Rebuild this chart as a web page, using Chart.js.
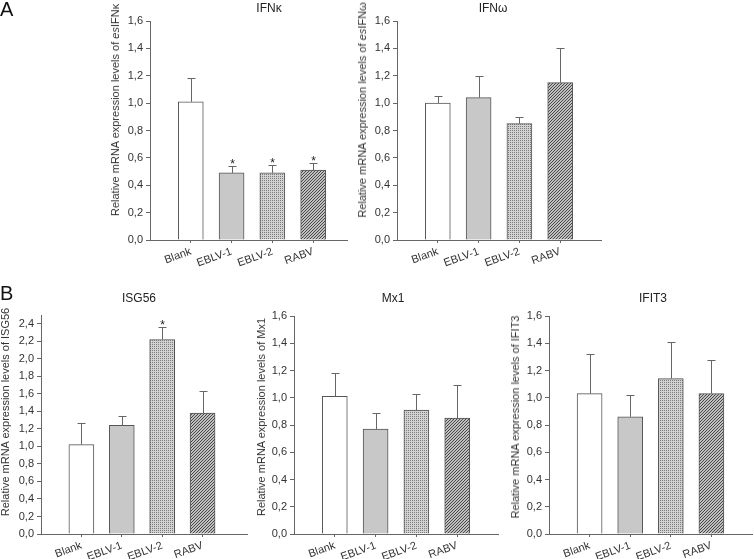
<!DOCTYPE html>
<html>
<head>
<meta charset="utf-8">
<script src="https://cdn.jsdelivr.net/npm/chart.js@4.4.0/dist/chart.umd.min.js"></script>
<style>
  body { margin: 0; background: #fff; font-family: 'Liberation Sans', Arial, sans-serif; color: #333; }
  #fig { position: relative; width: 754px; height: 559px; overflow: hidden; }
  canvas { position: absolute; left: 0; top: 0; }
  .lbl { position: absolute; font-size: 20px; color: #111; line-height: 1; }
  .ttl { position: absolute; font-size: 12px; color: #222; transform: translate(-50%, -50%); white-space: nowrap; }
  .ytl { position: absolute; font-size: 11px; color: #333; transform: translate(-50%, -50%) rotate(-90deg); white-space: nowrap; }
</style>
</head>
<body>
<div id="fig">
  <canvas id="cKappa" width="754" height="559"></canvas>
  <canvas id="cOmega" width="754" height="559"></canvas>
  <canvas id="cIsg56" width="754" height="559"></canvas>
  <canvas id="cMx1" width="754" height="559"></canvas>
  <canvas id="cIfit3" width="754" height="559"></canvas>

  <div class="lbl" style="left:0px;top:-1px">A</div>
  <div class="lbl" style="left:0px;top:283px">B</div>

  <div class="ttl" style="left:269px;top:8px">IFNκ</div>
  <div class="ttl" style="left:493px;top:8px">IFNω</div>
  <div class="ttl" style="left:139px;top:298px">ISG56</div>
  <div class="ttl" style="left:393px;top:298px">Mx1</div>
  <div class="ttl" style="left:653px;top:298px">IFIT3</div>

  <div class="ytl" style="left:115px;top:110px">Relative mRNA expression levels of <i>es</i>IFNκ</div>
  <div class="ytl" style="left:362px;top:110px">Relative mRNA expression levels of <i>es</i>IFNω</div>
  <div class="ytl" style="left:5px;top:412px">Relative mRNA expression levels of ISG56</div>
  <div class="ytl" style="left:261px;top:417px">Relative mRNA expression levels of Mx1</div>
  <div class="ytl" style="left:515px;top:417px">Relative mRNA expression levels of IFIT3</div>
</div>

<script>
const categories = ["Blank", "EBLV-1", "EBLV-2", "RABV"];
const ticksLow = [0, 0.2, 0.4, 0.6, 0.8, 1.0, 1.2, 1.4, 1.6];
const ticksHigh = [0, 0.2, 0.4, 0.6, 0.8, 1.0, 1.2, 1.4, 1.6, 1.8, 2.0, 2.2, 2.4];

// medias y desviaciones
const ifnKappa = [1.01, 0.49, 0.49, 0.51];
const ifnKappaSd = [0.17, 0.05, 0.06, 0.05];
const ifnKappaSig = [false, true, true, true];

const ifnOmega = [1.00, 1.04, 0.85, 1.15];
const ifnOmegaSd = [0.05, 0.16, 0.05, 0.25];
const ifnOmegaSig = [false, false, false, false];

const isg56 = [1.02, 1.24, 2.22, 1.38];
const isg56Sd = [0.25, 0.11, 0.14, 0.25];
const isg56Sig = [false, false, true, false];

const mx1 = [1.01, 0.77, 0.91, 0.85];
const mx1Sd = [0.17, 0.12, 0.12, 0.24];
const mx1Sig = [false, false, false, false];

const ifit3 = [1.03, 0.86, 1.14, 1.03];
const ifit3Sd = [0.29, 0.16, 0.27, 0.25];
const ifit3Sig = [false, false, false, false];

Chart.defaults.font.family = "'Liberation Sans', Arial, sans-serif";
Chart.defaults.font.size = 11;
Chart.defaults.color = "#333";

function pattern(size, bg, fg, dots) {
  const c = document.createElement("canvas");
  c.width = c.height = size;
  const g = c.getContext("2d");
  g.fillStyle = bg;
  g.fillRect(0, 0, size, size);
  g.fillStyle = fg;
  dots.forEach(([x, y]) => g.fillRect(x, y, 1, 1));
  return g.createPattern(c, "repeat");
}

const fills = [
  "#ffffff",
  "#c8c8c8",
  pattern(2, "#d2d2d2", "#7c7c7c", [[0, 0]]),
  pattern(3, "#c0c0c0", "#484848", [[0, 2], [1, 1], [2, 0]])
];

// barras de error (solo hacia arriba) y asteriscos
const errorBars = {
  id: "errorBars",
  afterDatasetsDraw(chart, args, opts) {
    const { ctx } = chart;
    const y = chart.scales.y;
    const pts = chart.data.datasets[0].data;
    ctx.save();
    ctx.strokeStyle = "#666";
    ctx.lineWidth = 1;
    chart.getDatasetMeta(0).data.forEach((bar, i) => {
      const top = Math.round(y.getPixelForValue(pts[i].y + opts.sd[i])) + 0.5;
      const x = Math.round(bar.x) + 0.5;
      ctx.beginPath();
      ctx.moveTo(x, bar.y);
      ctx.lineTo(x, top);
      ctx.moveTo(x - 4, top);
      ctx.lineTo(x + 4, top);
      ctx.stroke();
      if (opts.sig[i]) {
        ctx.fillStyle = "#222";
        ctx.font = "12px 'Liberation Sans', Arial";
        ctx.textAlign = "center";
        ctx.textBaseline = "alphabetic";
        ctx.fillText("*", x, top + 1);
      }
    });
    ctx.restore();
  }
};

function makeChart(id, means, sd, sig, yMax, yTicks, xMax, box) {
  return new Chart(document.getElementById(id), {
    type: "bar",
    data: {
      datasets: [{
        data: means.map((v, i) => ({ x: i + 1, y: v })),
        backgroundColor: fills,
        borderColor: "#555",
        borderWidth: 1,
        barThickness: 25
      }]
    },
    options: {
      responsive: false,
      animation: false,
      layout: {
        padding: { left: box.left - 40, top: box.top, right: 754 - box.right, bottom: 559 - box.bottom - 40 }
      },
      plugins: {
        legend: { display: false },
        tooltip: { enabled: false },
        errorBars: { sd, sig }
      },
      scales: {
        x: {
          type: "linear",
          min: 0,
          max: xMax,
          offset: false,
          afterFit: s => { s.height = 40; },
          afterBuildTicks: s => { s.ticks = categories.map((c, i) => ({ value: i + 1 })); },
          grid: { offset: false, drawOnChartArea: false, drawTicks: true, tickLength: 3, tickColor: "#666" },
          border: { color: "#666" },
          ticks: {
            autoSkip: false,
            minRotation: 20,
            maxRotation: 20,
            padding: 2,
            callback: v => categories[Math.round(v) - 1]
          }
        },
        y: {
          min: 0,
          max: yMax,
          afterFit: s => { s.width = 40; },
          afterBuildTicks: s => { s.ticks = yTicks.map(v => ({ value: v })); },
          grid: { drawOnChartArea: false, drawTicks: true, tickLength: 4, tickColor: "#666" },
          border: { color: "#666" },
          ticks: { padding: 3, callback: v => v.toFixed(1).replace(".", ",") }
        }
      }
    },
    plugins: [errorBars]
  });
}

makeChart("cKappa", ifnKappa, ifnKappaSd, ifnKappaSig, 1.6, ticksLow, 4.83,
  { left: 150, right: 347, top: 21, bottom: 240 });
makeChart("cOmega", ifnOmega, ifnOmegaSd, ifnOmegaSig, 1.6, ticksLow, 5,
  { left: 397, right: 601, top: 21, bottom: 240 });
makeChart("cIsg56", isg56, isg56Sd, isg56Sig, 2.5, ticksHigh, 5.1,
  { left: 41, right: 247, top: 315, bottom: 534 });
makeChart("cMx1", mx1, mx1Sd, mx1Sig, 1.6, ticksLow, 5,
  { left: 294, right: 498, top: 316, bottom: 534 });
makeChart("cIfit3", ifit3, ifit3Sd, ifit3Sig, 1.6, ticksLow, 5,
  { left: 549, right: 752, top: 316, bottom: 534 });
</script>
</body>
</html>
